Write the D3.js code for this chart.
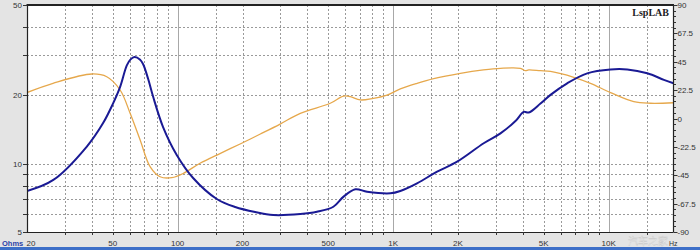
<!DOCTYPE html>
<html><head><meta charset="utf-8">
<script src="https://cdn.jsdelivr.net/npm/d3@7"></script>
<style>
html,body{margin:0;padding:0;background:#e4e4e4;}
svg{display:block;}
</style></head>
<body>
<svg id="chart" width="700" height="250"></svg>
<script>
// ---- data ----
const impFreq = [20, 26.5, 37.9, 45.1, 50, 54.1, 58.1, 60.5, 63.1, 67, 69.2, 73, 77, 85.6, 99.2, 118, 152, 185, 229, 278, 371, 443, 528, 589, 668, 757, 971, 1080, 1291, 1600, 1981, 2632, 3148, 3696, 4040, 4260, 4828, 5374, 6422, 7956, 10206, 12204, 15112, 18048, 20000];
const impOhm  = [7.58, 8.48, 11.9, 15.1, 18.3, 21.8, 27.1, 28.8, 29.5, 28.7, 27.4, 23.6, 19.7, 14.5, 10.9, 8.65, 6.99, 6.44, 6.12, 5.94, 6.0, 6.14, 6.46, 7.16, 7.71, 7.52, 7.40, 7.58, 8.19, 9.22, 10.2, 12.3, 13.6, 15.4, 16.9, 16.8, 18.4, 20.1, 22.6, 25.0, 26.0, 26.0, 25.0, 23.4, 22.6];
const phFreq  = [20, 26.4, 40, 46.9, 54.1, 60.2, 67, 74.5, 82.9, 94, 106.4, 127, 158, 195, 242, 299, 371, 511, 589, 633, 704, 809, 937, 1080, 1291, 1543, 2052, 2624, 3148, 3898, 4112, 4260, 4828, 5374, 6892, 8242, 10206, 13092, 15654, 20000];
const phDeg   = [20.6, 27.9, 35.3, 33.1, 22.6, 4.1, -17.1, -38.2, -46.2, -46.9, -43.5, -35.5, -27.6, -20.2, -12.3, -4.4, 4.1, 12.1, 17.8, 17.3, 14.7, 16.0, 18.6, 23.5, 27.9, 31.6, 35.8, 38.5, 39.8, 39.8, 37.9, 38.6, 37.9, 37.3, 32.7, 27.9, 20.5, 13.3, 12.1, 12.5];
const ohmTickLabels = [5, 10, 20, 50];
const ohmGrid = [6, 7, 8, 9, 10, 20, 30, 40];
const phaseTicks = [-90, -67.5, -45, -22.5, 0, 22.5, 45, 67.5, 90];
const freqTicks = [20, 50, 100, 200, 500, 1000, 2000, 5000, 10000];
const freqTickLabels = ["20", "50", "100", "200", "500", "1K", "2K", "5K", "10K"];
const freqDecades = [100, 1000, 10000];
const freqGridMult = [1.5, 2, 3, 4, 5, 6, 7, 8, 9];

// ---- layout ----
const L = 27, R = 673.5, T = 5, B = 232;
const FONT = "Arial, 'Liberation Sans', sans-serif";
const svg = d3.select("#chart");
const x = d3.scaleLog().domain([20, 20000]).range([L, R]);
const yO = d3.scaleLog().domain([5, 50]).range([B, T]);
const yP = d3.scaleLinear().domain([-90, 90]).range([B, T]);

svg.append("rect").attr("x", 0).attr("y", 0).attr("width", 700).attr("height", 250).attr("fill", "#e4e4e4");
svg.append("rect").attr("x", L).attr("y", T).attr("width", R - L).attr("height", B - T).attr("fill", "#fff");

// grid
const vGrid = [];
[10, 100, 1000, 10000].forEach(d => freqGridMult.forEach(m => { const f = d * m; if (f > 20 && f < 20000) vGrid.push(f); }));
const g = svg.append("g");
g.selectAll(".vg").data(vGrid.filter(f => !freqDecades.includes(f))).join("line")
  .attr("x1", d => Math.round(x(d)) + 0.5).attr("x2", d => Math.round(x(d)) + 0.5)
  .attr("y1", T).attr("y2", B).attr("stroke", "#9a9a9a").attr("stroke-width", 1).attr("stroke-dasharray", "2,2");
g.selectAll(".vd").data(freqDecades).join("line")
  .attr("x1", d => Math.round(x(d)) + 0.5).attr("x2", d => Math.round(x(d)) + 0.5)
  .attr("y1", T).attr("y2", B).attr("stroke", "#a8a8a8").attr("stroke-width", 1);
g.selectAll(".hg").data(ohmGrid).join("line")
  .attr("x1", L).attr("x2", R)
  .attr("y1", d => Math.round(yO(d)) + 0.5).attr("y2", d => Math.round(yO(d)) + 0.5)
  .attr("stroke", "#9a9a9a").attr("stroke-width", 1).attr("stroke-dasharray", "2,2");

// curves
const line = d3.line().curve(d3.curveCatmullRom.alpha(0.5));
const phPts = phFreq.map((f, i) => [x(f), yP(phDeg[i])]);
const imPts = impFreq.map((f, i) => [x(f), yO(impOhm[i])]);
svg.append("clipPath").attr("id", "pc").append("rect").attr("x", L).attr("y", T).attr("width", R - L).attr("height", B - T);
svg.append("path").attr("d", line(phPts)).attr("fill", "none").attr("stroke", "#e6a84c").attr("stroke-width", 1.3).attr("clip-path", "url(#pc)");
svg.append("path").attr("d", line(imPts)).attr("fill", "none").attr("stroke", "#1a1a94").attr("stroke-width", 2).attr("clip-path", "url(#pc)");

// frame
svg.append("line").attr("x1", L - 0.5).attr("x2", R + 0.5).attr("y1", T).attr("y2", T).attr("stroke", "#222").attr("stroke-width", 2);
svg.append("line").attr("x1", L + 0.5).attr("x2", L + 0.5).attr("y1", T).attr("y2", B).attr("stroke", "#222").attr("stroke-width", 1.2);
svg.append("line").attr("x1", R).attr("x2", R).attr("y1", T).attr("y2", B).attr("stroke", "#222").attr("stroke-width", 1.2);
svg.append("line").attr("x1", L).attr("x2", R).attr("y1", B + 0.5).attr("y2", B + 0.5).attr("stroke", "#222").attr("stroke-width", 1.2);

// left axis
svg.selectAll(".lt").data(ohmGrid.concat([5, 50])).join("line")
  .attr("x1", L - 4).attr("x2", L).attr("y1", d => Math.round(yO(d)) + 0.5).attr("y2", d => Math.round(yO(d)) + 0.5)
  .attr("stroke", "#333");
svg.selectAll(".ll").data(ohmTickLabels).join("text")
  .attr("x", L - 5).attr("y", d => yO(d) + 3).attr("text-anchor", "end")
  .style("font-family", FONT).style("font-size", "8px").attr("fill", "#333").text(d => d);

// right axis
const minor = d3.range(-90, 90.01, 4.5);
svg.selectAll(".rt").data(minor).join("line")
  .attr("x1", R).attr("x2", d => R + (Math.abs(d % 22.5) < 0.01 ? 4 : 2.5))
  .attr("y1", d => Math.round(yP(d)) + 0.5).attr("y2", d => Math.round(yP(d)) + 0.5).attr("stroke", "#333");
svg.selectAll(".rl").data(phaseTicks).join("text")
  .attr("x", R + 4).attr("y", d => yP(d) + 3)
  .style("font-family", FONT).style("font-size", "8px").attr("fill", "#333").text(d => d);

// bottom axis
svg.selectAll(".bt").data(vGrid).join("line")
  .attr("x1", d => Math.round(x(d)) + 0.5).attr("x2", d => Math.round(x(d)) + 0.5)
  .attr("y1", B).attr("y2", B + 3).attr("stroke", "#333");
svg.selectAll(".bl").data(freqTicks).join("text")
  .attr("x", d => d === 20 ? x(d) + 4 : x(d)).attr("y", 246).attr("text-anchor", "middle")
  .style("font-family", FONT).style("font-size", "8px").attr("fill", "#333").text((d, i) => freqTickLabels[i]);
svg.append("text").attr("x", 669).attr("y", 246).style("font-family", FONT).style("font-size", "7px").attr("fill", "#333").text("Hz");
svg.append("text").attr("x", 2).attr("y", 246).style("font-family", FONT).style("font-size", "7.5px").style("font-weight", "bold").attr("fill", "#2a3fa8").text("Ohms");

// brand
svg.append("text").attr("x", 669).attr("y", 16).attr("text-anchor", "end")
  .style("font-family", "'Liberation Serif', 'DejaVu Serif', serif").style("font-weight", "bold").style("font-size", "10px").attr("fill", "#222").text("LspLAB");

// window strip & watermark
svg.append("rect").attr("x", 0).attr("y", 247).attr("width", 700).attr("height", 3).attr("fill", "#3d6fc8");
svg.append("text").attr("x", 628).attr("y", 245).style("font-family", "'Noto Sans CJK SC', sans-serif").style("font-size", "10px")
  .attr("fill", "#ffffff").attr("fill-opacity", 0.85).attr("stroke", "#c8c8c8").attr("stroke-width", 0.4).text("汽车之家");
</script>
</body></html>
